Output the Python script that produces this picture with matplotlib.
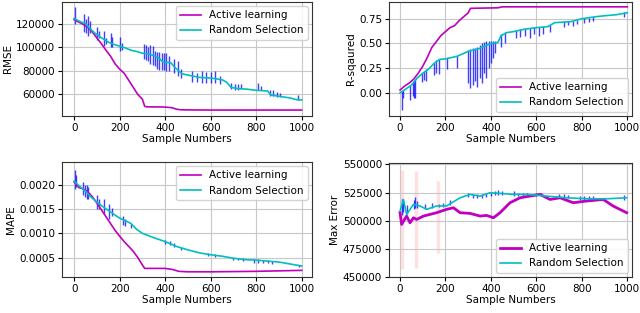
import matplotlib
matplotlib.use("Agg")
import matplotlib.pyplot as plt

plt.rcParams['font.family'] = ['DejaVu Sans']
plt.rcParams['font.size'] = 7.5

# ---- RMSE ----
al_rmse_x = [0, 20, 40, 60, 80, 100, 120, 140, 160, 180, 200, 220, 240, 260, 280, 300, 310,
             320, 350, 400, 430, 450, 470, 500, 600, 800, 1000]
al_rmse = [123500, 121500, 119500, 117000, 113000, 108000, 103000, 97500, 92500, 86000, 81500,
           78000, 72000, 66000, 60000, 56000, 50000, 49500, 49500, 49300, 48800, 47500, 47000,
           46900, 46800, 46800, 46800]
rs_rmse_x = [0, 25, 50, 75, 100, 125, 150, 175, 200, 225, 250, 275, 300, 325, 350, 375, 390,
             425, 440, 460, 475, 500, 550, 600, 650, 670, 690, 720, 760, 800, 850, 865, 900,
             950, 980, 1000]
rs_rmse = [124500, 122000, 120000, 115000, 110500, 107500, 104500, 102500, 101000, 99500,
           97500, 96500, 95000, 94500, 93000, 90500, 87500, 87000, 83500, 80000, 77500, 76500,
           74500, 74000, 72500, 70500, 66000, 65000, 64500, 63500, 63000, 59500, 58500, 57000,
           55500, 55300]
sp_rmse_x = [5, 45, 52, 60, 68, 100, 108, 130, 140, 160, 168, 200, 210, 305, 315, 325, 335,
             345, 355, 365, 375, 385, 395, 405, 415, 440, 455, 470, 520, 540, 560, 580, 600,
             620, 640, 690, 705, 720, 735, 810, 820, 860, 875, 890, 905, 985]
sp_rmse_lo = [120000, 113000, 112000, 110000, 112000, 106000, 108000, 101000, 103000, 100000,
              100000, 97000, 98000, 90000, 89000, 88000, 86000, 85000, 84000, 82000, 81000,
              81000, 81000, 80000, 80000, 78000, 76000, 74000, 70500, 70500, 70000, 70000,
              70000, 69500, 69000, 64500, 64000, 64000, 64500, 64000, 64000, 58500, 58500,
              58000, 58000, 55500]
sp_rmse_hi = [134000, 128000, 124000, 127000, 122000, 117000, 114000, 114000, 108000, 112000,
              109000, 109000, 104000, 103000, 102000, 100000, 102000, 101000, 97000, 96000,
              96000, 95000, 95000, 95000, 93000, 90000, 88000, 82000, 80000, 78000, 80000,
              79000, 79000, 80000, 76000, 70000, 69000, 69000, 69000, 69500, 67000, 64000,
              64000, 62000, 61000, 59500]

# ---- R-squared ----
al_r2_x = [0, 20, 40, 60, 80, 100, 120, 140, 160, 180, 200, 220, 240, 260, 280, 300, 310,
           430, 450, 1000]
al_r2 = [0.03, 0.07, 0.10, 0.14, 0.20, 0.27, 0.36, 0.46, 0.52, 0.58, 0.62, 0.66, 0.68, 0.73,
         0.77, 0.81, 0.855, 0.86, 0.87, 0.87]
rs_r2_x = [0, 25, 50, 75, 100, 125, 150, 175, 200, 250, 300, 350, 400, 430, 445, 470, 500,
           550, 600, 650, 680, 750, 800, 860, 900, 950, 1000]
rs_r2 = [0.0, 0.04, 0.08, 0.15, 0.20, 0.24, 0.30, 0.34, 0.345, 0.37, 0.42, 0.45, 0.50, 0.51,
         0.58, 0.61, 0.62, 0.645, 0.66, 0.67, 0.71, 0.72, 0.75, 0.77, 0.78, 0.79, 0.81]
sp_r2_x = [7, 12, 45, 55, 62, 68, 95, 105, 115, 150, 160, 170, 205, 250, 300, 310, 320, 330,
           340, 350, 360, 370, 380, 390, 400, 410, 420, 445, 460, 510, 530, 550, 570, 590,
           610, 630, 660, 720, 740, 760, 780, 810, 830, 850, 985]
sp_r2_lo = [-0.17, -0.05, -0.07, -0.03, -0.05, -0.05, 0.11, 0.13, 0.12, 0.18, 0.20, 0.19,
            0.24, 0.25, 0.10, 0.05, 0.08, 0.12, 0.06, 0.15, 0.10, 0.20, 0.15, 0.25, 0.30,
            0.35, 0.40, 0.46, 0.50, 0.56, 0.57, 0.58, 0.56, 0.60, 0.58, 0.60, 0.62, 0.67,
            0.69, 0.68, 0.70, 0.71, 0.72, 0.73, 0.77]
sp_r2_hi = [0.02, 0.03, 0.08, 0.10, 0.12, 0.14, 0.20, 0.22, 0.24, 0.30, 0.33, 0.34, 0.35,
            0.37, 0.43, 0.44, 0.45, 0.45, 0.46, 0.48, 0.50, 0.52, 0.53, 0.53, 0.53, 0.53,
            0.53, 0.60, 0.62, 0.64, 0.65, 0.66, 0.66, 0.67, 0.67, 0.68, 0.69, 0.73, 0.73,
            0.73, 0.74, 0.76, 0.76, 0.77, 0.82]

# ---- MAPE ----
al_mape_x = [0, 20, 40, 60, 80, 100, 120, 140, 160, 180, 200, 220, 240, 260, 280, 300, 310,
             350, 400, 430, 460, 500, 600, 800, 1000]
al_mape = [0.00205, 0.00194, 0.00191, 0.00185, 0.00175, 0.00162, 0.00148, 0.00134, 0.00120,
           0.00106, 0.00094, 0.00083, 0.00073, 0.00063, 0.00050, 0.00035, 0.00028, 0.00028,
           0.00028, 0.00026, 0.00022, 0.00021, 0.00021, 0.00022, 0.00024]
rs_mape_x = [0, 25, 50, 75, 100, 125, 150, 175, 200, 225, 250, 275, 300, 350, 400, 450, 500,
             550, 600, 650, 700, 750, 800, 850, 900, 950, 1000]
rs_mape = [0.00207, 0.00196, 0.00186, 0.00174, 0.00164, 0.00155, 0.00147, 0.00139, 0.00131,
           0.00126, 0.00120, 0.00108, 0.00100, 0.00091, 0.00083, 0.00073, 0.00066, 0.00060,
           0.00056, 0.00053, 0.00049, 0.00046, 0.00045, 0.00043, 0.00041, 0.00037, 0.00033]
sp_mape_x = [5, 10, 40, 48, 55, 62, 100, 108, 130, 155, 165, 215, 225, 250, 400, 420, 440,
             470, 590, 620, 700, 720, 740, 790, 810, 830, 850, 870, 990]
sp_mape_lo = [0.0019, 0.00195, 0.00178, 0.00175, 0.0017, 0.0017, 0.0015, 0.0015, 0.0014,
              0.0013, 0.00135, 0.00118, 0.00115, 0.0011, 0.00078, 0.00076, 0.00072, 0.00066,
              0.00054, 0.00052, 0.00046, 0.00045, 0.00044, 0.0004, 0.0004, 0.00039, 0.00039,
              0.00038, 0.00031]
sp_mape_hi = [0.0023, 0.0022, 0.00205, 0.002, 0.002, 0.00195, 0.00178, 0.0017, 0.0017,
              0.0016, 0.00152, 0.00135, 0.0013, 0.0012, 0.00086, 0.00084, 0.0008, 0.00072,
              0.00059, 0.00058, 0.0005, 0.0005, 0.00049, 0.00047, 0.00047, 0.00046, 0.00045,
              0.00044, 0.00036]

# ---- Max Error ----
al_max_x = [0, 7, 29, 44, 59, 73, 103, 161, 205, 235, 264, 308, 352, 381, 411, 440, 484, 528,
            572, 616, 660, 704, 762, 821, 894, 938, 997]
al_max = [507000, 496600, 504000, 498000, 502500, 501000, 504000, 507000, 510000, 511400,
          507000, 506400, 504000, 504600, 502500, 507000, 515900, 520300, 521800, 523300,
          518800, 520300, 515900, 517400, 518800, 512900, 507000]
rs_max_x = [0, 15, 29, 59, 88, 117, 161, 205, 264, 308, 352, 396, 440, 499, 557, 645, 733,
            821, 909, 997]
rs_max = [508500, 518800, 505500, 514400, 513000, 510000, 513000, 513000, 520300, 523300,
          521800, 524800, 524200, 523300, 523300, 521800, 520300, 519400, 519400, 520300]
sp_max_x = [10, 15, 30, 60, 68, 75, 110, 140, 170, 190, 220, 300, 320, 340, 360, 380, 400,
            420, 430, 450, 500, 520, 540, 560, 600, 620, 700, 720, 740, 790, 810, 830, 850, 985]
sp_max_lo = [505000, 508000, 506000, 510000, 511000, 511000, 510000, 511000, 512000, 512000,
             514000, 521000, 520000, 520000, 520000, 521000, 522000, 523000, 523000, 523000,
             522000, 522000, 522000, 522000, 522000, 522000, 520000, 520000, 520000, 518000,
             518000, 518000, 518000, 518000]
sp_max_hi = [519000, 517000, 514000, 518000, 521000, 517000, 515000, 516000, 515000, 516000,
             518000, 525000, 524000, 524000, 524000, 525000, 525000, 526000, 527000, 526000,
             526000, 525000, 525000, 525000, 525000, 525000, 524000, 524000, 523000, 522000,
             522000, 522000, 522000, 523000]
band_max_x = [7, 70, 165]
band_max_lo = [457000, 458000, 471000]
band_max_hi = [545000, 544000, 535000]

x_ticks = [0, 200, 400, 600, 800, 1000]

fig = plt.figure(figsize=(6.4, 3.13), dpi=100)


def panel(rect, xlim, alx, aly, rsx, rsy, spx, splo, sphi, ylabel, ylim, yticks,
          legend_loc, lw_al=1.2):
    ax = fig.add_axes(rect)
    ax.grid(True, color='#c8c8c8', linewidth=0.8)
    ax.set_axisbelow(True)
    ax.vlines(spx, splo, sphi, color='b', alpha=0.75, linewidth=1.0)
    ax.plot(alx, aly, color='m', linewidth=lw_al, label='Active learning')
    ax.plot(rsx, rsy, color='c', linewidth=1.2, label='Random Selection')
    ax.set_xlim(*xlim)
    ax.set_ylim(*ylim)
    ax.set_xticks(x_ticks)
    ax.set_yticks(yticks)
    ax.set_xlabel('Sample Numbers', labelpad=1)
    ax.set_ylabel(ylabel, labelpad=2)
    ax.tick_params(length=3, pad=2)
    for s in ax.spines.values():
        s.set_color('#333333')
    ax.legend(loc=legend_loc, framealpha=0.85, edgecolor='#cccccc', borderaxespad=0.4)
    return ax


panel([0.097, 0.630, 0.390, 0.364], (-53, 1044), al_rmse_x, al_rmse, rs_rmse_x, rs_rmse,
      sp_rmse_x, sp_rmse_lo, sp_rmse_hi, 'RMSE', (41900, 138600),
      [60000, 80000, 100000, 120000], 'upper right')

panel([0.608, 0.630, 0.380, 0.364], (-48, 1022), al_r2_x, al_r2, rs_r2_x, rs_r2,
      sp_r2_x, sp_r2_lo, sp_r2_hi, 'R-sqaured', (-0.23, 0.92),
      [0.0, 0.25, 0.5, 0.75], 'lower right')

panel([0.097, 0.116, 0.390, 0.366], (-53, 1044), al_mape_x, al_mape, rs_mape_x, rs_mape,
      sp_mape_x, sp_mape_lo, sp_mape_hi, 'MAPE', (0.00011, 0.00246),
      [0.0005, 0.0010, 0.0015, 0.0020], 'upper right')

ax4 = panel([0.608, 0.116, 0.380, 0.364], (-48, 1022), al_max_x, al_max, rs_max_x, rs_max,
            sp_max_x, sp_max_lo, sp_max_hi, 'Max Error', (450000, 551500),
            [450000, 475000, 500000, 525000, 550000], 'lower right', lw_al=2.0)
ax4.vlines(band_max_x, band_max_lo, band_max_hi, color='r', alpha=0.12, linewidth=2.5,
           zorder=0.5)

fig.savefig('out.png', dpi=100)
